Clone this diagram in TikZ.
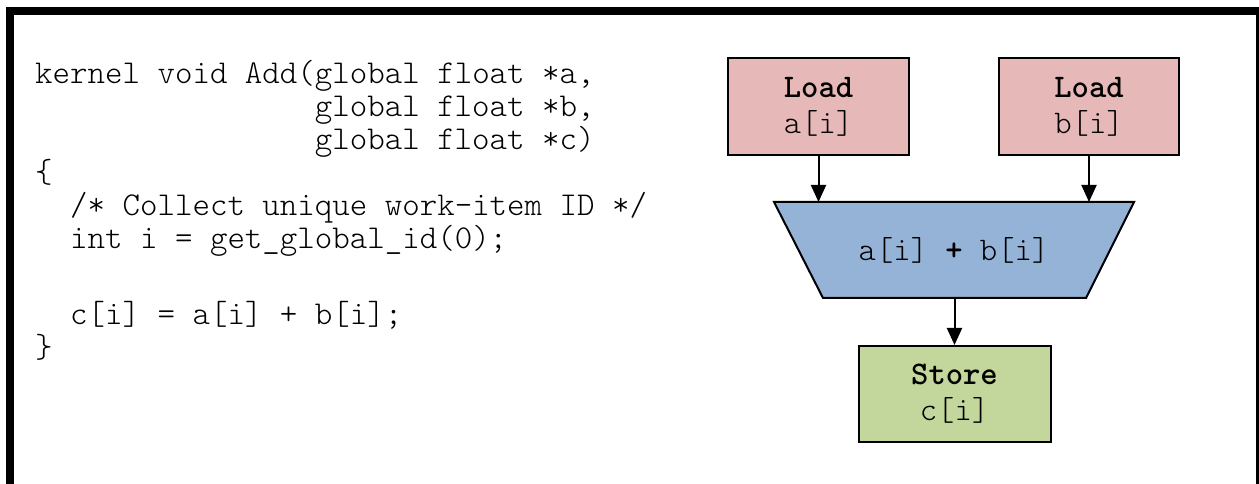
\documentclass[tikz,border=0pt]{standalone}
\usepackage{fontspec}
\newfontfamily\codefont[BoldFont=lmmonolt10-bold.otf]{lmmonolt10-regular.otf}
\usetikzlibrary{arrows.meta}
\definecolor{loadfill}{HTML}{E6B8B7}
\definecolor{addfill}{HTML}{95B3D7}
\definecolor{storefill}{HTML}{C3D69B}
\tikzset{
  codeline/.style={anchor=base west, inner sep=0pt, font=\codefont\fontsize{33.3bp}{33bp}\selectfont},
  opbox/.style={draw=black, line width=2bp, minimum width=#1, inner sep=0pt, align=center,
    font=\codefont\fontsize{33bp}{36bp}\selectfont},
  arr/.style={line width=2bp, -{Triangle[width=15bp,length=17bp]}},
}
\begin{document}
\begin{tikzpicture}[x=1bp,y=-1bp]
\useasboundingbox (0,0) rectangle (1259,484);
\clip (0,0) rectangle (1259,484);
\fill[white] (0,0) rectangle (1259,484);
\draw[line width=8bp, black] (10,520) -- (10,11) -- (1260,11) -- (1260,520);
% code
\node[codeline] (l1) at (35,84) {kernel void Add(global float *a,};
\node[codeline] (l2) at (35,117) {\phantom{kernel void Add(}global float *b,};
\node[codeline] (l3) at (35,150) {\phantom{kernel void Add(}global float *c)};
\node[codeline] (l4) at (35,183) {\{};
\node[codeline] (l5) at (35,216) {\phantom{xx}/* Collect unique work-item ID */};
\node[codeline] (l6) at (35,249) {\phantom{xx}int i = get\_global\_id(0);};
\node[codeline] (l7) at (35,325) {\phantom{xx}c[i] = a[i] + b[i];};
\node[codeline] (l8) at (35,358) {\}};
% diagram
\node[opbox=181bp, minimum height=97bp, fill=loadfill] (la) at (818.5,106.5) {\textbf{Load}\\a[i]};
\node[opbox=180bp, minimum height=97bp, fill=loadfill] (lb) at (1089,106.5) {\textbf{Load}\\b[i]};
\coordinate (ttl) at (774,202);
\coordinate (ttr) at (1134,202);
\coordinate (tbr) at (1086,298);
\coordinate (tbl) at (823,298);
\filldraw[fill=addfill, draw=black, line width=2bp] (ttl) -- (ttr) -- (tbr) -- (tbl) -- cycle;
\node[inner sep=0pt, font=\codefont\fontsize{33bp}{36bp}\selectfont] (sum) at (954,250) {a[i] \textbf{+} b[i]};
\coordinate (sumbot) at (954.5,298);
\node[opbox=192bp, minimum height=96bp, fill=storefill] (st) at (954.5,394) {\textbf{Store}\\c[i]};
\draw[arr] (la.south) -- (la.south |- ttl);
\draw[arr] (lb.south) -- (lb.south |- ttl);
\draw[arr] (sumbot) -- (st.north);
\end{tikzpicture}
\end{document}
